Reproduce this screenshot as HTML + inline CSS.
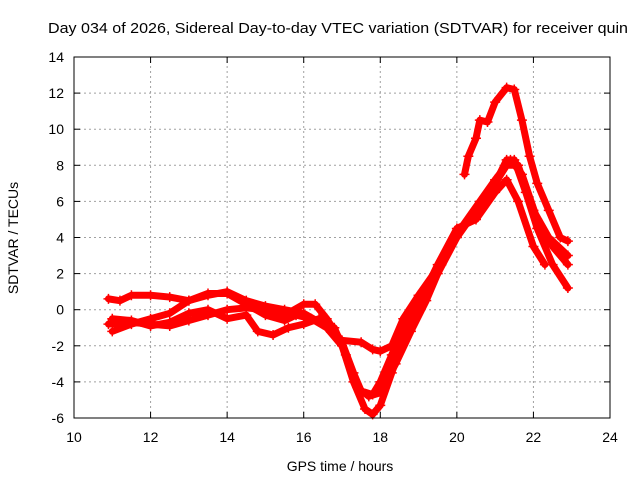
<!DOCTYPE html>
<html><head><meta charset="utf-8"><style>
body{margin:0;background:#fff;}
svg text{font-family:"Liberation Sans",sans-serif;font-size:14px;fill:#000;}
</style></head><body>
<svg id="chart" width="640" height="480">
<rect width="640" height="480" fill="#fff"/>
<text x="48" y="33" textLength="580" lengthAdjust="spacingAndGlyphs" style="font-size:15px">Day 034 of 2026, Sidereal Day-to-day VTEC variation (SDTVAR) for receiver quin</text>
<text x="340" y="471" text-anchor="middle">GPS time / hours</text>
<text transform="translate(18,238) rotate(-90)" text-anchor="middle">SDTVAR / TECUs</text>
<g id="grid"></g><g id="series"></g><g id="axes"></g>
</svg>
<script>
const xTicks=[10,12,14,16,18,20,22,24];
const yTicks=[-6,-4,-2,0,2,4,6,8,10,12,14];
const trace1=[[10.9,-0.8],[11.5,-0.7],[12,-0.8],[12.5,-0.9],[13,-0.6],[13.5,-0.3],[14,0],[14.5,0.1],[15,0],[15.5,-0.3],[16,0.3],[16.3,0.3],[16.6,-0.5],[17,-1.8],[17.3,-3.5],[17.5,-4.5],[17.8,-4.7],[18,-4],[18.3,-2.5],[18.6,-1],[19,0.5],[19.5,2],[20,4],[20.5,5.5],[21,7],[21.3,8.3],[21.5,8.3],[21.8,6.5],[22.1,4.5],[22.5,2.5],[22.9,1.2]];
const trace2=[[10.9,0.6],[11.2,0.5],[11.5,0.8],[12,0.8],[12.5,0.7],[13,0.5],[13.5,0.9],[14,0.9],[14.5,0.3],[15,-0.3],[15.5,-0.6],[15.8,-0.3],[16.2,-0.5],[16.6,-1],[17,-2],[17.3,-4],[17.6,-5.5],[17.8,-5.8],[18,-5.3],[18.3,-3.5],[18.7,-1],[19,0.3],[19.5,2.5],[20,4.5],[20.5,5],[21,6.5],[21.3,7.2],[21.6,6],[22,3.5],[22.3,2.5]];
const trace3=[[11,-1.2],[11.5,-0.8],[12,-0.5],[12.5,-0.2],[13,0.5],[13.5,0.8],[14,1],[14.5,0.5],[15,0.2],[15.5,0],[16,-0.2],[16.5,-0.8],[17,-1.7],[17.5,-1.8],[17.8,-2.2],[18,-2.3],[18.3,-2],[18.6,-0.5],[19,0.8],[19.5,2.3],[20,4.2],[20.5,5.5],[21,7],[21.3,8],[21.6,8],[22,5.5],[22.4,4],[22.9,3]];
const trace4=[[11,-0.5],[11.5,-0.6],[12,-0.9],[12.5,-0.7],[13,-0.2],[13.5,0],[14,-0.5],[14.5,-0.3],[14.8,-1.2],[15.2,-1.4],[15.6,-1],[16,-0.8],[16.4,-0.5],[16.8,-1],[17.1,-2.5],[17.4,-4.3],[17.7,-4.8],[18,-4.6],[18.4,-3],[18.8,-1.2],[19.2,0.5],[19.6,2.5],[20.1,4.5],[20.6,6],[21,7.2],[21.4,8.3],[21.7,7.5],[22.1,5],[22.5,3.5],[22.9,2.5]];
const trace5=[[20.2,7.5],[20.3,8.5],[20.5,9.5],[20.6,10.5],[20.8,10.4],[21,11.5],[21.3,12.3],[21.5,12.2],[21.7,10.5],[21.9,8.5],[22.1,7],[22.4,5.5],[22.7,4],[22.9,3.8]];
const traces=[trace1,trace2,trace3,trace4,trace5];
const X0=74,X1=610,Y0=418,Y1=57,xMin=10,xMax=24,yMin=-6,yMax=14;
const sx=v=>X0+(v-xMin)*(X1-X0)/(xMax-xMin);
const sy=v=>Y0-(v-yMin)*(Y0-Y1)/(yMax-yMin);
const NS='http://www.w3.org/2000/svg';
function mk(t,a,p){const e=document.createElementNS(NS,t);for(const k in a)e.setAttribute(k,a[k]);p.appendChild(e);return e;}
const grid=document.getElementById('grid'),axes=document.getElementById('axes'),ser=document.getElementById('series');
xTicks.forEach(t=>{const x=sx(t);
 if(t>xMin&&t<xMax){const g=mk('line',{x1:x,x2:x,y1:Y0,y2:Y1,stroke:'#a0a0a0','stroke-dasharray':'2,3'},grid);
 
 }
 mk('line',{x1:x,x2:x,y1:Y0,y2:Y0-6,stroke:'#000'},axes);mk('line',{x1:x,x2:x,y1:Y1,y2:Y1+6,stroke:'#000'},axes);
 const l=mk('text',{x:x,y:Y0+24,'text-anchor':'middle'},axes);l.textContent=t;
 
 });
yTicks.forEach(t=>{const y=sy(t);
 if(t>yMin&&t<yMax){const g=mk('line',{x1:X0,x2:X1,y1:y,y2:y,stroke:'#a0a0a0','stroke-dasharray':'2,3'},grid);
 
 }
 mk('line',{x1:X0,x2:X0+6,y1:y,y2:y,stroke:'#000'},axes);mk('line',{x1:X1,x2:X1-6,y1:y,y2:y,stroke:'#000'},axes);
 const l=mk('text',{x:X0-10,y:y+5,'text-anchor':'end'},axes);l.textContent=t;
 
 });
const fr=mk('rect',{x:X0,y:Y1,width:X1-X0,height:Y0-Y1,fill:'none',stroke:'#000'},axes);


traces.forEach((tr,i)=>{
 const p=mk('polyline',{points:tr.map(d=>sx(d[0])+','+sy(d[1])).join(' '),fill:'none',stroke:'#f00','stroke-width':7,'stroke-linejoin':'round','stroke-linecap':'round'},ser);
 
 
 tr.forEach(d=>{const x=sx(d[0]),y=sy(d[1]);
  const m=mk('path',{d:`M${x-5},${y}H${x+5}M${x},${y-5}V${y+5}`,stroke:'#f00','stroke-width':1.5},ser);
  
  });
});
</script>
</body></html>
